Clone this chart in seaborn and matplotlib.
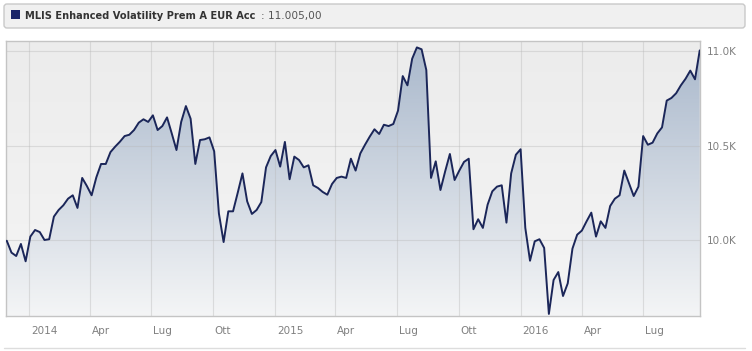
import numpy as np
import pandas as pd
import matplotlib
matplotlib.use("Agg")
import matplotlib.pyplot as plt
import matplotlib.dates as mdates
import seaborn as sns
from matplotlib.patches import FancyBboxPatch, Rectangle
from matplotlib.colors import LinearSegmentedColormap
from matplotlib.transforms import ScaledTranslation

# ---------------- data ----------------
series_name = "MLIS Enhanced Volatility Prem A EUR Acc"
last_value_label = "11.005,00"
end_date = "2016-09-23"

values = [
    9996, 9933, 9915, 9979, 9887, 10018, 10053, 10042, 10000, 10004,
    10124, 10159, 10184, 10219, 10237, 10170, 10329, 10286, 10237, 10332,
    10403, 10403, 10466, 10495, 10521,
    10551, 10558, 10583, 10622, 10640, 10626, 10661, 10583, 10604, 10650,
    10565, 10477, 10626, 10710, 10643, 10403, 10530, 10534, 10544, 10470,
    10141, 9989, 10152, 10152,
    10251, 10353, 10205, 10138, 10159, 10201, 10385, 10445, 10477, 10389,
    10520, 10322, 10442, 10424, 10385, 10396, 10290, 10276, 10255, 10240,
    10297, 10329, 10336, 10329,
    10431, 10368, 10459, 10505, 10548, 10587, 10562, 10611, 10604, 10615,
    10686, 10869, 10820, 10961, 11021, 11011, 10901, 10329, 10417, 10265,
    10364, 10456, 10318, 10368, 10414,
    10431, 10057, 10110, 10064, 10187, 10258, 10283, 10290, 10092, 10353,
    10452, 10481, 10064, 9890, 9993, 10004, 9958, 9608, 9788, 9830,
    9703, 9770, 9954, 10028,
    10050, 10099, 10145, 10018, 10099, 10064, 10180, 10219, 10237, 10368,
    10300, 10233, 10283, 10551, 10505, 10516, 10565, 10597, 10739, 10753,
    10778, 10820, 10855, 10898, 10852, 11005,
]
dates = pd.date_range(end=end_date, periods=len(values), freq="W-FRI")

tick_dates = ["2014-01-01", "2014-04-01", "2014-07-01", "2014-10-01",
              "2015-01-01", "2015-04-01", "2015-07-01", "2015-10-01",
              "2016-01-01", "2016-04-01", "2016-07-01"]
tick_labels = ["2014", "Apr", "Lug", "Ott", "2015", "Apr", "Lug", "Ott",
               "2016", "Apr", "Lug"]
y_ticks = [10000, 10500, 11000]
y_tick_labels = ["10.0K", "10.5K", "11.0K"]

# ---------------- style ----------------
sns.set_theme(style="white")
plt.rcParams["font.family"] = ["DejaVu Sans"]

W, H = 752, 351
fig = plt.figure(figsize=(W / 100, H / 100), dpi=100)
fig.patch.set_facecolor("white")

L, R, T, B = 5.7, 700, 41, 316
ax = fig.add_axes([L / W, 1 - B / H, (R - L) / W, (B - T) / H])

line_color = "#1b2659"
df = pd.DataFrame({"date": dates, "value": values})
sns.lineplot(data=df, x="date", y="value", ax=ax, color=line_color,
             linewidth=1.4, zorder=3)

xmin = mdates.date2num(pd.Timestamp("2013-11-27 10:00"))
xmax = mdates.date2num(pd.Timestamp(end_date) + pd.Timedelta(hours=10))
ymin, ymax = 9597, 11055

# background gradient
bg_cmap = LinearSegmentedColormap.from_list("bg", ["#f5f5f5", "#ececec"])
ax.imshow(np.linspace(0, 1, 256).reshape(-1, 1), cmap=bg_cmap, origin="lower",
          extent=[xmin, xmax, ymin, ymax], aspect="auto", zorder=0.1)

# area fill gradient clipped to the area under the line
poly = ax.fill_between(dates, values, ymin, facecolor="none", edgecolor="none")
fill_cmap = LinearSegmentedColormap.from_list("fill", ["#f4f5f6", "#a8b7cb"])
im = ax.imshow(np.linspace(0, 1, 256).reshape(-1, 1), cmap=fill_cmap,
               origin="lower", extent=[xmin, xmax, ymin, ymax],
               aspect="auto", zorder=0.3)
im.set_clip_path(poly.get_paths()[0], transform=ax.transData)

ax.set_xlim(xmin, xmax)
ax.set_ylim(ymin, ymax)

# grid
ax.set_axisbelow(True)
ax.grid(True, color="#b8b8b8", alpha=0.4, linewidth=0.8)
ax.set_xticks(mdates.date2num(pd.to_datetime(tick_dates)))
ax.set_xticklabels(tick_labels)
ax.set_yticks(y_ticks)
ax.set_yticklabels(y_tick_labels)
ax.yaxis.tick_right()
ax.tick_params(axis="both", length=0, labelsize=7.5, labelcolor="#808080")
ax.tick_params(axis="x", pad=7)
ax.tick_params(axis="y", pad=5)
for lbl in ax.get_xticklabels():
    lbl.set_horizontalalignment("left")
    lbl.set_transform(lbl.get_transform() + ScaledTranslation(2 / 100, 0, fig.dpi_scale_trans))
ax.set_xlabel("")
ax.set_ylabel("")
for sp in ax.spines.values():
    sp.set_visible(True)
    sp.set_color("#c4c4c4")
    sp.set_linewidth(1)

# ---------------- header (legend box) ----------------
box = FancyBboxPatch((4, H - 28), 741, 24, boxstyle="round,pad=0,rounding_size=3",
                     facecolor="#f0f0f0", edgecolor="#c9c9c9", linewidth=1,
                     transform=None, figure=fig)
fig.patches.append(box)
sq = Rectangle((11, H - 19), 9, 9, facecolor="#1b2568", edgecolor="none",
               transform=None, figure=fig)
fig.patches.append(sq)
t1 = fig.text(25 / W, 1 - 16 / H, series_name, fontsize=7.15, fontweight="bold",
              color="#333333", va="center", ha="left")
fig.canvas.draw()
bb = t1.get_window_extent()
fig.text((bb.x1 + 6) / W, 1 - 16 / H, ": " + last_value_label, fontsize=7.6,
         color="#555555", va="center", ha="left")

# bottom separator line
fig.add_artist(plt.Line2D([4 / W, 745 / W], [1 - 348 / H, 1 - 348 / H],
                          color="#dddddd", linewidth=1, transform=fig.transFigure))

fig.savefig("out.png", dpi=100, facecolor="white")
